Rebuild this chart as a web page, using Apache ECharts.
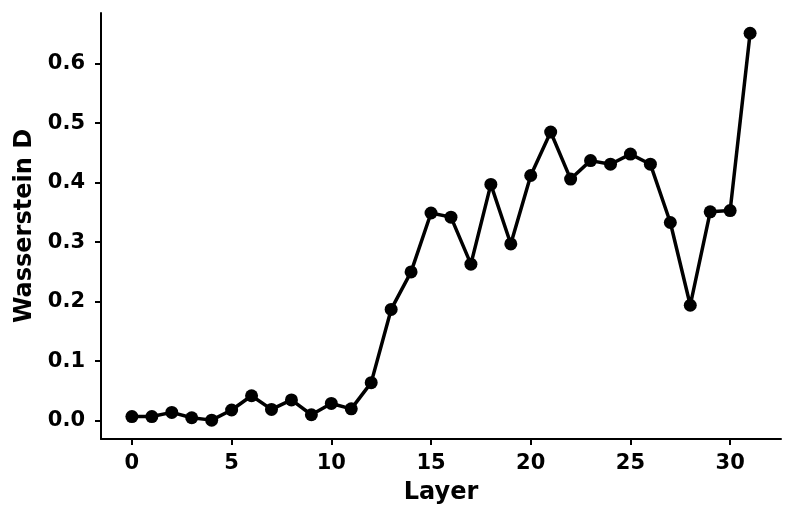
<!DOCTYPE html>
<html>
<head>
<meta charset="utf-8">
<script src="https://cdn.jsdelivr.net/npm/echarts@6/dist/echarts.min.js"></script>
<style>
  html, body { margin: 0; padding: 0; background: #fff; }
  #chart { width: 794px; height: 522px; }
</style>
</head>
<body>
<div id="chart"></div>
<script>
// layer index and the Wasserstein distance per layer
var layers = [0, 1, 2, 3, 4, 5, 6, 7, 8, 9, 10, 11, 12, 13, 14, 15,
  16, 17, 18, 19, 20, 21, 22, 23, 24, 25, 26, 27, 28, 29, 30, 31]
var distance = [0.007, 0.007, 0.014, 0.005, 0.001, 0.018, 0.042, 0.019,
  0.035, 0.010, 0.029, 0.020, 0.064, 0.187, 0.250, 0.349,
  0.342, 0.263, 0.397, 0.297, 0.412, 0.485, 0.406, 0.437,
  0.431, 0.448, 0.431, 0.333, 0.194, 0.351, 0.353, 0.651]
var xTicks = [0, 5, 10, 15, 20, 25, 30]
var yTicks = [0, 0.1, 0.2, 0.3, 0.4, 0.5, 0.6]

var points = layers.map(function (l, i) { return [l, distance[i]] })
var font = 'DejaVu Sans'

var chart = echarts.init(document.getElementById('chart'))
chart.setOption({
  animation: false,
  grid: { left: 101, right: 13, top: 13, bottom: 83 },
  xAxis: {
    type: 'value',
    min: -1.55,
    max: 32.55,
    name: 'Layer',
    nameLocation: 'middle',
    nameGap: 42,
    nameTextStyle: { color: '#000', fontFamily: font, fontWeight: 'bold', fontSize: 24 },
    axisLine: { onZero: false, lineStyle: { color: '#000', width: 2 } },
    axisTick: { show: true, length: 6, customValues: xTicks, lineStyle: { color: '#000', width: 2 } },
    axisLabel: {
      customValues: xTicks, margin: 14, color: '#000',
      fontFamily: font, fontWeight: 'bold', fontSize: 21
    },
    splitLine: { show: false }
  },
  yAxis: {
    type: 'value',
    min: -0.0307,
    max: 0.685,
    name: 'Wasserstein D',
    nameLocation: 'middle',
    nameGap: 64,
    nameTextStyle: { color: '#000', fontFamily: font, fontWeight: 'bold', fontSize: 24 },
    axisLine: { show: true, onZero: false, lineStyle: { color: '#000', width: 2 } },
    axisTick: { show: true, length: 6, customValues: yTicks, lineStyle: { color: '#000', width: 2 } },
    axisLabel: {
      customValues: yTicks, margin: 16, color: '#000',
      fontFamily: font, fontWeight: 'bold', fontSize: 21,
      formatter: function (v) { return v.toFixed(1) }
    },
    splitLine: { show: false }
  },
  series: [{
    type: 'line',
    data: points,
    symbol: 'circle',
    symbolSize: 13,
    itemStyle: { color: '#000' },
    lineStyle: { color: '#000', width: 3.5 }
  }]
})
</script>
</body>
</html>
